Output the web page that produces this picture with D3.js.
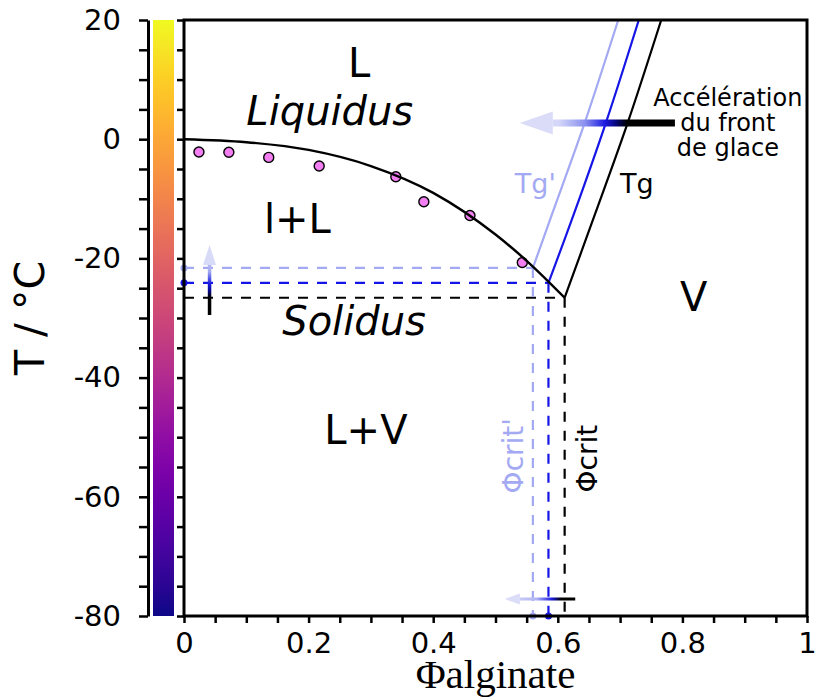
<!DOCTYPE html>
<html><head><meta charset="utf-8">
<script src="https://cdn.jsdelivr.net/npm/d3@7"></script>
<style>body{margin:0;background:#fff} svg{display:block}</style>
</head><body>
<svg id="c" width="816" height="698"></svg>
<script>
// ---------- data ----------
const liquidusX = [0, 0.1, 0.2, 0.3, 0.4, 0.5, 0.55, 0.611];
const liquidusT = [0, -0.5, -1.8, -4.5, -9.0, -16.0, -20.4, -26.6];
const pointsX = [0.024, 0.072, 0.136, 0.217, 0.340, 0.385, 0.459, 0.543];
const pointsT = [-2.15, -2.2, -3.05, -4.5, -6.3, -10.5, -12.8, -20.7];
const tgX = [0.611, 0.66, 0.712, 0.766];
const tgT = [-26.6, -12.5, 2.7, 20];
const tgBlueX = [0.585, 0.626, 0.677, 0.730];
const tgBlueT = [-24.1, -12.5, 2.7, 20];
const tgLightX = [0.560, 0.591, 0.643, 0.697];
const tgLightT = [-21.6, -12.5, 2.7, 20];
const critNames = ["black", "blue", "light"];
const critX = [0.611, 0.585, 0.560];
const critT = [-26.6, -24.1, -21.6];
const yTickLabels = ["-80", "-60", "-40", "-20", "0", "20"];
const yTickValues = [-80, -60, -40, -20, 0, 20];
const xTickLabels = ["0", "0.2", "0.4", "0.6", "0.8", "1"];
const xTickValues = [0, 0.2, 0.4, 0.6, 0.8, 1];

// ---------- setup ----------
const C = {black: "#000", blue: "#1515e6", light: "#a3a9f2", pale: "#d4d7f8"};
const svg = d3.select("#c");
const x = d3.scaleLinear().domain([0, 1]).range([184, 807]);
const y = d3.scaleLinear().domain([-80, 20]).range([616, 20]);
const defs = svg.append("defs");
const FONT = "DejaVu Sans, Verdana, sans-serif";

// colour bar
const cb = defs.append("linearGradient").attr("id", "plasma")
  .attr("x1", 0).attr("y1", 1).attr("x2", 0).attr("y2", 0);
d3.range(0, 1.0001, 0.05).forEach(t => cb.append("stop").attr("offset", t).attr("stop-color", d3.interpolatePlasma(t)));
svg.append("rect").attr("x", 153).attr("width", 21).attr("y", y(20)).attr("height", y(-80) - y(20))
  .attr("fill", "url(#plasma)");

// y axis (colour bar side) with labels
const minorY = d3.range(-80, 20.001, 5);
const yAx = svg.append("g").attr("transform", "translate(148,0)")
  .call(d3.axisLeft(y).tickValues(minorY).tickSize(9).tickSizeOuter(0).tickPadding(18)
    .tickFormat(d => { const i = yTickValues.indexOf(d); return i >= 0 ? yTickLabels[i] : ""; }));
yAx.select(".domain").attr("stroke-width", 3);
yAx.selectAll(".tick line").attr("stroke-width", 2.5);
yAx.selectAll("text").attr("font-family", FONT).attr("font-size", 29).attr("fill", "#000");

// y axis at plot
const yAx2 = svg.append("g").attr("transform", "translate(184,0)")
  .call(d3.axisLeft(y).tickValues(minorY).tickSize(7).tickSizeOuter(0).tickFormat(""));
yAx2.select(".domain").remove();
yAx2.selectAll(".tick line").attr("stroke-width", 2.5);

// x axis
const minorX = d3.range(0, 1.0001, 0.05);
const xAx = svg.append("g").attr("transform", "translate(0,616)")
  .call(d3.axisBottom(x).tickValues(minorX).tickSize(7).tickSizeOuter(0).tickPadding(9)
    .tickFormat(d => { const i = xTickValues.findIndex(v => Math.abs(v - d) < 1e-6); return i >= 0 ? xTickLabels[i] : ""; }));
xAx.select(".domain").remove();
xAx.selectAll(".tick line").attr("stroke-width", 2.5);
xAx.selectAll("text").attr("font-family", FONT).attr("font-size", 29).attr("fill", "#000");

// axis titles
svg.append("text").attr("transform", `translate(44,${(y(20) + y(-80)) / 2}) rotate(-90)`)
  .attr("text-anchor", "middle").attr("font-family", FONT).attr("font-size", 41).text("T / °C");
svg.append("text").attr("x", (x(0) + x(1)) / 2).attr("y", 688).attr("text-anchor", "middle")
  .attr("font-family", "Liberation Serif, Times New Roman, serif").attr("font-size", 41).text("Φalginate");

// ---------- dashed critical lines ----------
const critCol = {black: C.black, blue: C.blue, light: C.light};
const plot = svg.append("g");
critNames.forEach((n, i) => {
  plot.append("line").attr("x1", x(0)).attr("x2", x(critX[i])).attr("y1", y(critT[i])).attr("y2", y(critT[i]))
    .attr("stroke", critCol[n]).attr("stroke-width", 2.2).attr("stroke-dasharray", "10,9");
  plot.append("line").attr("x1", x(critX[i])).attr("x2", x(critX[i])).attr("y1", y(critT[i])).attr("y2", y(-80))
    .attr("stroke", critCol[n]).attr("stroke-width", 2.2).attr("stroke-dasharray", "10,9");
  if (n !== "black") {
    plot.append("circle").attr("cx", x(0)).attr("cy", y(critT[i])).attr("r", 3.5).attr("fill", critCol[n]);
    plot.append("circle").attr("cx", x(critX[i])).attr("cy", y(-80)).attr("r", 3.5).attr("fill", critCol[n]);
  }
});

// ---------- curves ----------
const line = d3.line().x(d => x(d[0])).y(d => y(d[1])).curve(d3.curveMonotoneX);
const lineTg = d3.line().x(d => x(d[0])).y(d => y(d[1])).curve(d3.curveCatmullRom);
plot.append("path").datum(tgLightX.map((v, i) => [v, tgLightT[i]])).attr("d", lineTg)
  .attr("fill", "none").attr("stroke", C.light).attr("stroke-width", 2.2);
plot.append("path").datum(tgBlueX.map((v, i) => [v, tgBlueT[i]])).attr("d", lineTg)
  .attr("fill", "none").attr("stroke", C.blue).attr("stroke-width", 2.2);
plot.append("path").datum(tgX.map((v, i) => [v, tgT[i]])).attr("d", lineTg)
  .attr("fill", "none").attr("stroke", C.black).attr("stroke-width", 2.2);

plot.selectAll(".pt").data(pointsX.map((v, i) => [v, pointsT[i]])).join("circle")
  .attr("cx", d => x(d[0])).attr("cy", d => y(d[1])).attr("r", 5)
  .attr("fill", "#f27ef2").attr("stroke", "#000").attr("stroke-width", 1.4);

plot.append("path").datum(liquidusX.map((v, i) => [v, liquidusT[i]])).attr("d", line)
  .attr("fill", "none").attr("stroke", "#000").attr("stroke-width", 2.4);

// ---------- arrows ----------
function gradArrow(id, from, to, stops, shaftW, headL, headW, headCol) {
  const x1 = x(from[0]), y1 = y(from[1]), x2 = x(to[0]), y2 = y(to[1]);
  const g = defs.append("linearGradient").attr("id", id).attr("gradientUnits", "userSpaceOnUse")
    .attr("x1", x1).attr("y1", y1).attr("x2", x2).attr("y2", y2);
  stops.forEach(s => g.append("stop").attr("offset", s[0]).attr("stop-color", s[1]));
  const dx = x2 - x1, dy = y2 - y1, L = Math.hypot(dx, dy), ux = dx / L, uy = dy / L;
  const bx = x2 - ux * headL, by = y2 - uy * headL;
  svg.append("line").attr("x1", x1).attr("y1", y1).attr("x2", bx).attr("y2", by)
    .attr("stroke", `url(#${id})`).attr("stroke-width", shaftW);
  svg.append("polygon").attr("points", [[x2, y2], [bx - uy * headW, by + ux * headW], [bx + uy * headW, by - ux * headW]].join(" "))
    .attr("fill", headCol);
}
gradArrow("ga1", [0.788, 2.7], [0.539, 2.7],
  [[0, "#000"], [0.31, "#000"], [0.38, "#06067a"], [0.45, "#1a1ae0"], [0.58, "#8a90ee"], [0.75, "#d4d7f8"], [1, "#dcdff9"]],
  7, 33, 11.5, "#dadcf8");
gradArrow("ga2", [0.041, -29.5], [0.041, -17.75],
  [[0, "#000"], [0.25, "#000"], [0.36, "#0a0aa0"], [0.45, "#1a1ae0"], [0.62, "#a6acf2"], [1, "#d6d9f8"]],
  3.5, 20, 6.5, "#d8dbf8");
gradArrow("ga3", [0.628, -77.15], [0.515, -77.15],
  [[0, "#000"], [0.2, "#000"], [0.33, "#1a1ae0"], [0.55, "#b0b5f3"], [1, "#dadcf8"]],
  3, 15, 5.5, "#dadcf8");

// ---------- labels ----------
const T = (px, pt, txt, opts = {}) => svg.append("text").attr("x", x(px)).attr("y", y(pt))
  .attr("font-family", FONT).attr("font-size", opts.size || 40).attr("text-anchor", opts.anchor || "middle")
  .attr("font-style", opts.italic ? "italic" : "normal").attr("fill", opts.color || "#000").text(txt);
T(0.281, 10.4, "L");
T(0.234, 2.4, "Liquidus", {italic: true});
T(0.182, -15.7, "l+L");
T(0.273, -32.85, "Solidus", {italic: true});
T(0.292, -51.2, "L+V");
T(0.818, -28.8, "V");
T(0.531, -9.06, "Tg'", {size: 27, anchor: "start", color: C.light});
T(0.700, -9.06, "Tg", {size: 27, anchor: "start"});
T(0.873, 5.55, "Accélération", {size: 24});
T(0.873, 1.35, "du front", {size: 24});
T(0.873, -2.85, "de glace", {size: 24});
svg.append("text").attr("transform", `translate(${x(0.663)},${y(-53.6)}) rotate(-90)`)
  .attr("text-anchor", "middle").attr("font-family", FONT).attr("font-size", 28).text("Φcrit");
svg.append("text").attr("transform", `translate(${x(0.544)},${y(-53.1)}) rotate(-90)`)
  .attr("text-anchor", "middle").attr("font-family", FONT).attr("font-size", 28).attr("fill", C.light).text("Φcrit'");

// frame
svg.append("rect").attr("x", x(0)).attr("y", y(20)).attr("width", x(1) - x(0)).attr("height", y(-80) - y(20))
  .attr("fill", "none").attr("stroke", "#000").attr("stroke-width", 3);
</script>
</body></html>
